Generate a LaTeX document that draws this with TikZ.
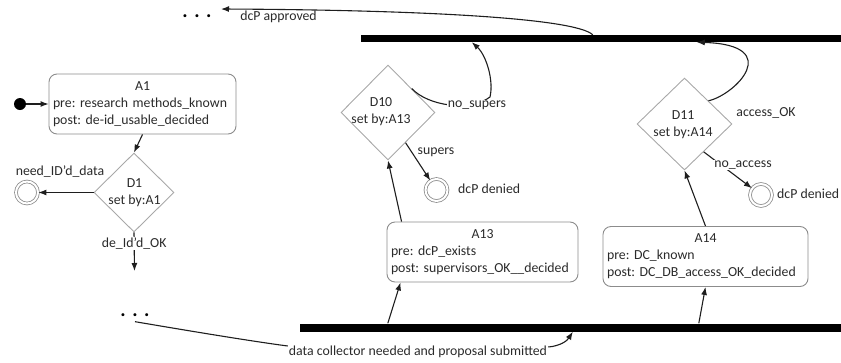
\documentclass[tikz,border=0pt]{standalone}
\usepackage{fontspec}
\setmainfont{Carlito}
\usetikzlibrary{shapes.geometric,arrows.meta,calc}
\definecolor{txt}{HTML}{2A2A2A}
\definecolor{boxc}{HTML}{8C8C8C}
\definecolor{dia}{HTML}{A8A8A8}
\definecolor{lin}{HTML}{1E1E1E}
\begin{document}
\begin{tikzpicture}[x=1pt,y=1pt,
  every node/.style={font=\fontsize{13.8}{17}\selectfont\frenchspacing, text=txt, inner sep=2pt},
  act/.style={draw=boxc, line width=0.9pt, rounded corners=8pt, inner sep=4pt, align=left, minimum height=60pt},
  dec/.style={diamond, draw=dia, line width=0.9pt, inner sep=0pt},
  dectext/.style={align=center},
  fin/.style={circle, draw=boxc, line width=0.8pt, double=white, double distance=2pt, minimum size=22pt, inner sep=0pt},
  startdot/.style={circle, fill=black, minimum size=12pt, inner sep=0pt},
  bar/.style={fill=black, inner sep=0pt, minimum height=7pt},
  conn/.style={draw=lin, line width=1.1pt},
  arr/.style={conn, -{Latex[length=8pt,width=6pt]}},
  lbl/.style={fill=white, inner sep=1pt},
  dots/.style={font=\fontsize{20}{20}\selectfont\bfseries, text=black, inner sep=0pt}
]
\useasboundingbox (0,0) rectangle (841,-362);

% bars
\node[bar, minimum width=480pt] (topbar) at (601,-38.5) {};
\node[bar, minimum width=541pt, minimum height=8pt] (botbar) at (570.5,-327.5) {};

% dots
\node[dots] (dotsT) at (197,-16) {.\kern6.5pt.\kern6.5pt.};
\node[dots] (dotsB) at (135,-315) {.\kern6.5pt.\kern6.5pt.};

% activities
\node[act, text width=179pt] (A1) at (142.5,-104) {{\centering A1\par}pre:\ research methods\_known\\post:\ de-id\_usable\_decided};
\node[act, text width=183pt] (A13) at (482.5,-252) {{\centering A13\par}pre:\ dcP\_exists\\post:\ supervisors\_OK\_\_decided};
\node[act, text width=197pt] (A14) at (705.5,-256.5) {{\centering A14\par}pre:\ DC\_known\\post:\ DC\_DB\_access\_OK\_decided};

% decisions
\node[dec, minimum width=80pt, minimum height=79pt] (D1) at (134,-192.5) {};
\node[dectext] (D1t) at (134.5,-193) {D1\\set by:A1};
\node[dec, minimum width=94pt, minimum height=95pt] (D10) at (388,-112.5) {};
\node[dectext] (D10t) at (381,-112) {D10\\set by:A13};
\node[dec, minimum width=95pt, minimum height=92pt] (D11) at (684.5,-124) {};
\node[dectext] (D11t) at (683,-125) {D11\\set by:A14};

% start and finals
\node[startdot] (start) at (20,-104) {};
\node[fin] (F1) at (27,-192.5) {};
\node[fin] (F2) at (436.5,-190) {};
\node[fin] (F3) at (761,-195) {};

% connectors
\draw[arr] (start) -- (A1.west);
\draw[arr] (A1.south) -- (D1.north);
\draw[arr] (D1.west) -- (F1);
\node (lneed) at (60,-172) {need\_ID’d\_data};
\coordinate (c1) at (134.5,-271);
\draw[arr] (D1.south) -- (c1) node[lbl, pos=0.29] (lok) {de\_Id’d\_OK};

\draw[arr] ($(botbar.north west)+(88,0)$) -- ($(A13.south west)+(14,0)$);
\draw[arr] ($(A13.north west)+(15,0)$) -- (D10.south);
\draw[arr] ($(botbar.north west)+(399,0)$) -- (A14.south);
\draw[arr] (A14.north) -- (D11.south);

\draw[arr] ($(D10.south)!0.37!(D10.east)$) -- (F2);
\node (lsup) at (436,-152) {supers};
\node[anchor=west] (ld2) at (456,-189) {dcP denied};

\draw[arr] (D10.north east) .. controls (428,-106) and (470,-112) .. (490,-97) .. controls (494,-80) and (486,-55) .. ($(topbar.south west)+(111,0)$);
\node[lbl] (lnos) at (477,-105) {no\_supers};

\draw[arr] (D11.north east) .. controls (735,-95) and (785,-45) .. ($(topbar.south west)+(336,0)$);
\node (lacc) at (766,-113) {access\_OK};

\draw[arr] ($(D11.south)!0.4!(D11.east)$) -- (F3);
\node[lbl] (lnoa) at (743,-165) {no\_access};
\node[anchor=west] (ld3) at (775,-194) {dcP denied};

\coordinate (tipA) at (221,-9);
\draw[arr] ($(topbar.north west)+(232,0)$) .. controls (575,-18) and (420,-10) .. (tipA);
\node (lapp) at (278.5,-17) {dcP approved};

\node (ldc) at (418,-352) {data collector needed and proposal submitted};
\draw[conn] ($(dotsB.south)+(0,-5)$) .. controls (190,-331) and (250,-341) .. ($(ldc.west)+(1,6)$);
\draw[arr] ($(ldc.east)+(-1,5)$) .. controls (560,-346) and (567,-341) .. ($(botbar.south west)+(273,0)$);
\end{tikzpicture}
\end{document}
